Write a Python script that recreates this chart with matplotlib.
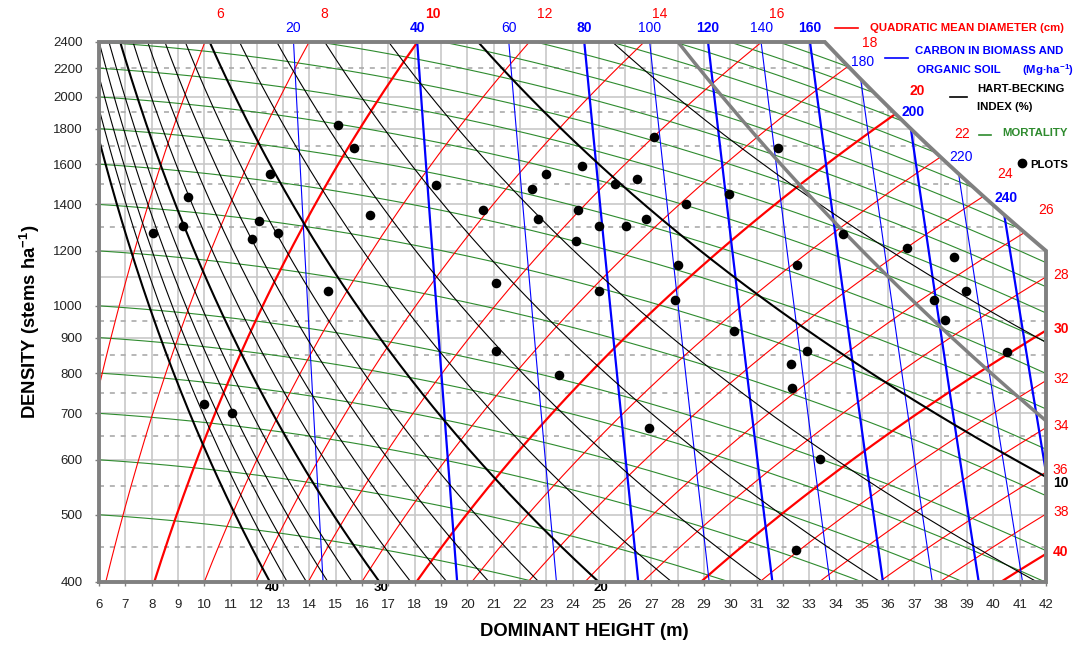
import numpy as np
import matplotlib
matplotlib.use('Agg')
import matplotlib.pyplot as plt
from matplotlib.patches import Polygon
from matplotlib.lines import Line2D
from matplotlib.ticker import NullLocator, NullFormatter

plt.rcParams['font.family'] = ['Liberation Sans', 'DejaVu Sans']
plt.rcParams['mathtext.fontset'] = 'custom'
plt.rcParams['mathtext.rm'] = 'Liberation Sans'
plt.rcParams['mathtext.bf'] = 'Liberation Sans:bold'
NARROW = ['Liberation Sans Narrow', 'Liberation Sans', 'DejaVu Sans']

# ---------------- isoline levels
diam_levels = list(range(6, 42, 2))        # quadratic mean diameter (cm)
carbon_levels = list(range(20, 260, 20))   # carbon in biomass and organic soil (Mg/ha)
hb_levels = list(range(8, 42, 2))          # Hart-Becking index (%)
mort_start = [500, 600, 700, 800, 900, 1000, 1200, 1400, 1600, 1800, 2000,
              2200, 2400, 2600, 2800, 3000, 3200, 3400, 3600, 3800, 4000]

# ---------------- field plots: dominant height (m), density (stems/ha)
plot_h = [15.1, 15.7, 12.5, 9.4, 9.2, 8.05, 12.1, 11.8, 12.8, 16.3, 18.8, 10.0,
          11.05, 14.7, 21.1, 21.1, 23.5, 20.6, 22.45, 23.0, 24.35, 24.2, 22.7,
          24.15, 25.0, 25.6, 26.45, 26.05, 26.8, 27.1, 28.3, 29.95, 31.8, 34.3,
          36.7, 38.5, 38.95, 37.75, 38.15, 40.5, 25.0, 28.0, 27.9, 30.15, 32.55,
          32.9, 32.3, 32.35, 26.9, 33.4, 32.5]
plot_n = [1825, 1690, 1550, 1435, 1305, 1275, 1325, 1250, 1275, 1350, 1495, 723,
          700, 1050, 1080, 860, 795, 1375, 1475, 1550, 1590, 1375, 1335,
          1240, 1305, 1500, 1525, 1305, 1335, 1750, 1400, 1450, 1690, 1270,
          1210, 1175, 1050, 1018, 955, 857, 1050, 1145, 1018, 921, 1145,
          860, 825, 762, 667, 602, 445]

x_ticks = list(range(6, 43))
y_ticks = [400, 500, 600, 700, 800, 900, 1000, 1200, 1400, 1600, 1800, 2000, 2200, 2400]
grid_solid = [500, 600, 700, 800, 900, 1000, 1100, 1200, 1400, 1600, 1800, 2000]
grid_dash = [450, 550, 650, 750, 850, 950, 1300, 1500, 1700, 1900, 2200]

K_limit = 169100.0     # upper boundary (Reineke type)
K_thin = 133600.0      # self-thinning line

RED = '#ff0000'
BLUE = '#0000ff'
GREEN = '#2e8b2e'
GRAY = '#808080'


# ---------------- model relations of the diagram
def h_from_dg(dg, n):
    return 8.1 * (dg / 10.0) ** 1.157 * (n / 400.0) ** 0.449

def h_from_carbon(c, n):
    return 14.52 * (c / 20.0) ** 0.434 * (n / 400.0) ** -0.045

def n_from_hb(ih, h):
    return (10000.0 / (ih * h)) ** 2

def n_mortality(n0, h):
    return n0 * np.exp(-0.00047 * (h ** 2 - 36.0))

def reineke(k):
    d0 = (k / 2400.0) ** (1 / 1.5)
    dg = np.linspace(d0, 60, 4000)
    h = h_from_dg(dg, k * dg ** -1.5)
    d1 = np.interp(42.0, h, dg)
    dg = np.linspace(d0, d1, 400)
    n = k * dg ** -1.5
    return h_from_dg(dg, n), n


bh, bn = reineke(K_limit)
th, tn = reineke(K_thin)
h_corner = bh[0]

def n_border(h):
    return np.where(h <= h_corner, 2400.0, np.interp(h, bh, bn))

def end_point(h, n):
    inside = (h >= 6) & (h <= 42.001) & (n >= 400) & (n <= n_border(h) * 1.0001)
    i = np.nonzero(inside)[0][-1]
    return h[i], n[i]


fig = plt.figure(figsize=(10.85, 6.46), dpi=100)
ax = fig.add_axes([99 / 1085, 1 - 582 / 646, 947 / 1085, 540 / 646])
ax.set_yscale('log')

verts = [(6, 400), (6, 2400)] + list(zip(bh, bn)) + [(42, 400)]
clip = Polygon(verts, closed=True, transform=ax.transData, fill=False, edgecolor='none')
ax.add_patch(clip)

def clipped(artist):
    artist.set_clip_path(clip)
    return artist

# grid
clipped(ax.vlines(x_ticks, 400, 2400, color='#c8c8c8', lw=1.2, zorder=1))
clipped(ax.hlines(grid_solid, 6, 42, color='#c8c8c8', lw=1.2, zorder=1))
clipped(ax.hlines(grid_dash, 6, 42, color='#aaaaaa', lw=1.2, linestyles=(0, (3, 3.5)), zorder=1))

hh = np.linspace(6, 42, 500)
nn = np.geomspace(400, 2400, 2000)

# mortality
for n0 in mort_start:
    ln, = ax.plot(hh, n_mortality(n0, hh), color=GREEN, lw=0.8, zorder=2)
    clipped(ln)

# quadratic mean diameter
for d in diam_levels:
    thick = d % 10 == 0
    h = h_from_dg(d, nn)
    ln, = ax.plot(h, nn, color=RED, lw=1.6 if thick else 0.8, zorder=3)
    clipped(ln)
    he, ne = end_point(h, nn)
    w = 'bold' if thick else 'normal'
    if ne >= 2390:
        off = (15, 28)
    elif he >= 41.9:
        off = (15, 2)
    else:
        off = (22, 23)
    ax.annotate(str(d), (he, ne), xytext=off, textcoords='offset pixels', ha='center',
                va='center', color=RED, fontsize=10, fontweight=w, family=NARROW,
                annotation_clip=False)

# carbon
for c in carbon_levels:
    thick = c % 40 == 0
    h = h_from_carbon(c, nn)
    ln, = ax.plot(h, nn, color=BLUE, lw=1.6 if thick else 0.8, zorder=4)
    clipped(ln)
    he, ne = end_point(h, nn)
    off = (0, 14) if ne >= 2390 else (2, 17)
    ax.annotate(str(c), (he, ne), xytext=off, textcoords='offset pixels', ha='center',
                va='center', color=BLUE, fontsize=10, fontweight='bold' if thick else 'normal',
                family=NARROW, annotation_clip=False)

# Hart-Becking index
for ih in hb_levels:
    thick = ih % 10 == 0
    ln, = ax.plot(hh, n_from_hb(ih, hh), color='black', lw=1.5 if thick else 0.8, zorder=4)
    clipped(ln)
    if thick:
        h400 = 10000.0 / (ih * 20.0)
        if h400 <= 42:
            ax.annotate(str(ih), (h400, 400), xytext=(2, -6), textcoords='offset pixels',
                        ha='center', va='center', fontsize=9.5, fontweight='bold',
                        family=NARROW, annotation_clip=False)
        else:
            ax.annotate(str(ih), (42, n_from_hb(ih, 42.0)), xytext=(15, -6),
                        textcoords='offset pixels', ha='center', va='center',
                        fontsize=10, fontweight='bold', family=NARROW, annotation_clip=False)

# self-thinning line and diagram outline
ax.plot(th, tn, color=GRAY, lw=2.5, zorder=5, solid_capstyle='butt')
ox = [6, 6] + list(bh) + [42, 6]
oy = [400, 2400] + list(bn) + [400, 400]
ax.plot(ox, oy, color=GRAY, lw=2.8, zorder=6, clip_on=False, solid_joinstyle='miter')

# plots
ax.scatter(plot_h, plot_n, s=48, color='black', zorder=10, linewidths=0)

ax.set_xlim(6, 42)
ax.set_ylim(400, 2400)
ax.set_xticks(x_ticks)
ax.set_yticks(y_ticks)
ax.set_yticklabels([str(v) for v in y_ticks])
ax.yaxis.set_minor_locator(NullLocator())
ax.yaxis.set_minor_formatter(NullFormatter())
for s in ax.spines.values():
    s.set_visible(False)
ax.tick_params(axis='both', length=3, width=1, color=GRAY, labelsize=9.5, labelcolor='#222222')
ax.tick_params(axis='x', pad=9)
ax.tick_params(axis='y', pad=9)
for lab in ax.get_xticklabels() + ax.get_yticklabels():
    lab.set_family(NARROW)

def fx(x):
    return x / 1085.0

def fy(y):
    return 1 - y / 646.0

fig.text(fx(584), fy(631), 'DOMINANT HEIGHT (m)', ha='center', va='center',
         fontsize=13.3, fontweight='bold')
fig.text(fx(30), fy(322), 'DENSITY (stems ha$^{\\mathbf{-1}}$)', ha='center', va='center',
         rotation=90, fontsize=13.3, fontweight='bold')

# legend
fig.add_artist(Line2D([fx(835), fx(858)], [fy(28), fy(28)], color=RED, lw=1.2))
fig.text(fx(870), fy(28), 'QUADRATIC MEAN DIAMETER (cm)', color=RED, fontsize=8.2,
         fontweight='bold', va='center')
fig.add_artist(Line2D([fx(885), fx(908)], [fy(58), fy(58)], color=BLUE, lw=1.2))
fig.text(fx(915), fy(51), 'CARBON IN BIOMASS AND', color=BLUE, fontsize=8.2,
         fontweight='bold', va='center')
fig.text(fx(917), fy(70), 'ORGANIC SOIL', color=BLUE, fontsize=8.2,
         fontweight='bold', va='center')
fig.text(fx(1022), fy(70), '(Mg·ha$^{\\mathbf{-1}}$)', color=BLUE, fontsize=8.2,
         fontweight='bold', va='center')
fig.add_artist(Line2D([fx(950), fx(967)], [fy(97), fy(97)], color='black', lw=1.2))
fig.text(fx(977), fy(89), 'HART-BECKING', fontsize=8.2, fontweight='bold', va='center')
fig.text(fx(977), fy(107), 'INDEX (%)', fontsize=8.2, fontweight='bold', va='center')
fig.add_artist(Line2D([fx(979), fx(991)], [fy(135), fy(135)], color=GREEN, lw=1.2))
fig.text(fx(1002), fy(133), 'MORTALITY', color=GREEN, fontsize=8.2,
         fontweight='bold', va='center')
fig.add_artist(Line2D([fx(1022)], [fy(163)], marker='o', markersize=6, color='black', lw=0))
fig.text(fx(1030), fy(165), 'PLOTS', fontsize=8.2, fontweight='bold', va='center')

fig.savefig('out.png', dpi=100)
